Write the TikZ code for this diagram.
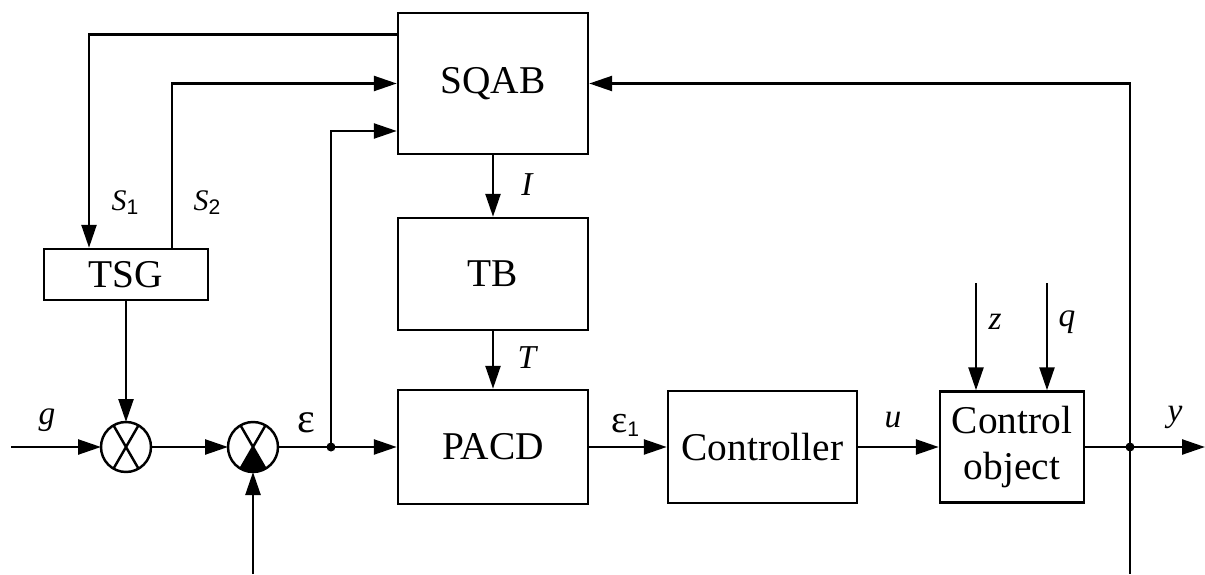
\documentclass[tikz,border=0pt]{standalone}
\usepackage{fontspec}
\setmainfont{Liberation Serif}
\newfontfamily\subsf{Liberation Sans}
\usetikzlibrary{arrows.meta}
\newcommand\lowidx[1]{\raisebox{-0.08cm}{\subsf\fontsize{12}{12}\selectfont #1}}
\tikzset{
  blk/.style={draw, line width=1.4pt, inner sep=0pt, align=center,
    font=\fontsize{22.4}{26}\selectfont},
  sumj/.style={draw, circle, line width=1.4pt, minimum size=1cm, inner sep=0pt, outer sep=0pt},
  lbl/.style={inner sep=0pt, font=\fontsize{19}{22}\selectfont\itshape},
  ln/.style={line width=1.4pt},
  sig/.style={line width=1.4pt, -{Triangle[length=0.46cm,width=0.3cm]}},
}
\begin{document}
\begin{tikzpicture}
    \useasboundingbox (0,0) rectangle (24.1,11.48);
    % blocks
    \node[blk, minimum width=3.8cm, minimum height=2.82cm] (sqab) at (9.86, 9.81) {SQAB};
    \node[blk, minimum width=3.8cm, minimum height=2.24cm] (tb) at (9.86, 6.00) {TB};
    \node[blk, minimum width=3.8cm, minimum height=2.28cm] (pacd) at (9.86, 2.54) {PACD};
    \node[blk, minimum width=3.78cm, minimum height=2.24cm] (ctrl) at (15.25, 2.54) {Controller};
    \node[blk, minimum width=2.88cm, minimum height=2.22cm] (obj) at (20.24, 2.54) {Control\\object};
    \node[blk, minimum width=3.28cm, minimum height=1.02cm] (tsg) at (2.52, 5.99) {TSG};
    % summing junctions
    \node[sumj] (sa) at (2.52, 2.54) {};
    \node[sumj] (sb) at (5.06, 2.54) {};
    \draw[ln] (sa.60) -- (sa.240) (sa.120) -- (sa.300);
    \draw[ln] (sb.60) -- (sb.240) (sb.120) -- (sb.300);
    \fill (sb.center) -- (sb.240) arc[start angle=240, end angle=300, radius=0.5cm] -- cycle;
    % free ends and branch points
    \coordinate (in) at (0.22, 2.54);
    \coordinate (eps) at (6.62, 2.54);
    \coordinate (yj) at (22.60, 2.54);
    \coordinate (out) at (24.10, 2.54);
    \coordinate (fbr) at (22.60, 0);
    \coordinate (fbl) at (5.06, 0);
    \coordinate (zin) at (19.52, 5.82);
    \coordinate (qin) at (20.94, 5.82);
    % connectors
    \draw[sig] (in) -- (sa.west);
    \draw[sig] (sa.east) -- (sb.west);
    \draw[ln] (sb.east) -- (eps);
    \draw[sig] (eps) -- (pacd.west);
    \draw[sig] (eps) |- ([yshift=-0.95cm]sqab.west);
    \draw[sig] ([yshift=0.98cm]sqab.west) -| ([xshift=-0.74cm]tsg.north);
    \draw[sig] ([xshift=0.92cm]tsg.north) |- (sqab.west);
    \draw[sig] (tsg.south) -- (sa.north);
    \draw[sig] (sqab.south) -- (tb.north);
    \draw[sig] (tb.south) -- (pacd.north);
    \draw[sig] (pacd.east) -- (ctrl.west);
    \draw[sig] (ctrl.east) -- (obj.west);
    \draw[ln] (obj.east) -- (yj);
    \draw[sig] (yj) -- (out);
    \draw[sig] (yj) |- (sqab.east);
    \draw[ln] (yj) -- (fbr);
    \draw[sig] (fbl) -- (sb.south);
    \draw[sig] (zin) -- (zin |- obj.north);
    \draw[sig] (qin) -- (qin |- obj.north);
    \fill (eps) circle (0.09);
    \fill (yj) circle (0.09);
    % labels
    \node[lbl] (lg) at (0.94, 3.08) {g};
    \node[lbl, font=\fontsize{24}{26}\selectfont] (leps) at (6.12, 3.02) {ε};
    \node[lbl, font=\fontsize{17}{18}\selectfont] (ls1) at (2.50, 7.42) {\textit{S}\lowidx{1}};
    \node[lbl, font=\fontsize{17}{18}\selectfont] (ls2) at (4.14, 7.42) {\textit{S}\lowidx{2}};
    \node[lbl] (li) at (10.54, 7.78) {I};
    \node[lbl] (lt) at (10.54, 4.32) {T};
    \node[lbl, font=\fontsize{22}{24}\selectfont] (leps1) at (12.50, 2.98) {ε\lowidx{1}};
    \node[lbl] (lu) at (17.86, 3.08) {u};
    \node[lbl] (lz) at (19.90, 5.04) {z};
    \node[lbl] (lq) at (21.34, 5.04) {q};
    \node[lbl] (ly) at (23.50, 3.14) {y};
\end{tikzpicture}
\end{document}
